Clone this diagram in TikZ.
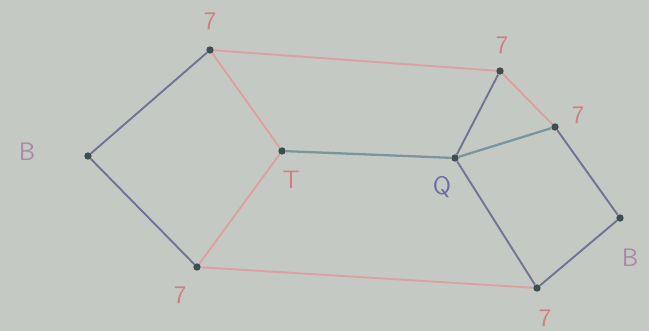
\documentclass[tikz,border=0pt]{standalone}
\usepackage{tikz}
\definecolor{bg}{RGB}{197,201,195}
\definecolor{pinkline}{RGB}{220,160,160}
\definecolor{blueline}{RGB}{112,116,150}
\definecolor{tealline}{RGB}{122,150,156}
\definecolor{dotcol}{RGB}{62,78,78}
\definecolor{lblpink}{RGB}{210,125,128}
\definecolor{lblB}{RGB}{172,136,168}
\definecolor{lblQ}{RGB}{108,108,165}
\tikzset{
  vtx/.style={circle,fill=dotcol,inner sep=0pt,minimum size=4.2pt},
  lbl/.style={font=\sffamily\Large,text=lblpink,inner sep=0pt},
  pinkedge/.style={draw=pinkline,line width=1.1pt},
  blueedge/.style={draw=blueline,line width=1.1pt},
  tealedge/.style={draw=tealline,line width=1.3pt}
}
\begin{document}
\begin{tikzpicture}[x=0.02cm,y=-0.02cm]
\fill[bg] (0,0) rectangle (649,331);
\useasboundingbox (0,0) rectangle (649,331);
% vertices
\node[vtx] (bl) at (88,156) {};
\node[vtx] (tl) at (210,50) {};
\node[vtx] (t) at (282,151) {};
\node[vtx] (lb) at (197,267) {};
\node[vtx] (tr1) at (500,71) {};
\node[vtx] (tr2) at (555,127) {};
\node[vtx] (q) at (455,158) {};
\node[vtx] (br) at (620,218) {};
\node[vtx] (rb) at (537,288) {};
% edges
\draw[blueedge] (bl) -- (tl);
\draw[blueedge] (bl) -- (lb);
\draw[pinkedge] (tl) -- (t);
\draw[pinkedge] (lb) -- (t);
\draw[pinkedge] (tl) -- (tr1);
\draw[pinkedge] (lb) -- (rb);
\draw[tealedge] (t) -- (q);
\draw[blueedge] (q) -- (tr1);
\draw[tealedge] (q) -- (tr2);
\draw[pinkedge] (tr1) -- (tr2);
\draw[blueedge] (tr2) -- (br);
\draw[blueedge] (q) -- (rb);
\draw[blueedge] (rb) -- (br);
% labels
\node[lbl,text=lblB] (lB1) at (27,152) {B};
\node[lbl] (l1) at (210,21) {7};
\node[lbl] (l2) at (291,180) {T};
\node[lbl] (l3) at (180,295) {7};
\node[lbl] (l4) at (502,45) {7};
\node[lbl] (l5) at (578,115) {7};
\node[lbl,text=lblQ] (lQ) at (442,187) {Q};
\node[lbl,text=lblB] (lB2) at (630,258) {B};
\node[lbl] (l6) at (545,318) {7};
\end{tikzpicture}
\end{document}
